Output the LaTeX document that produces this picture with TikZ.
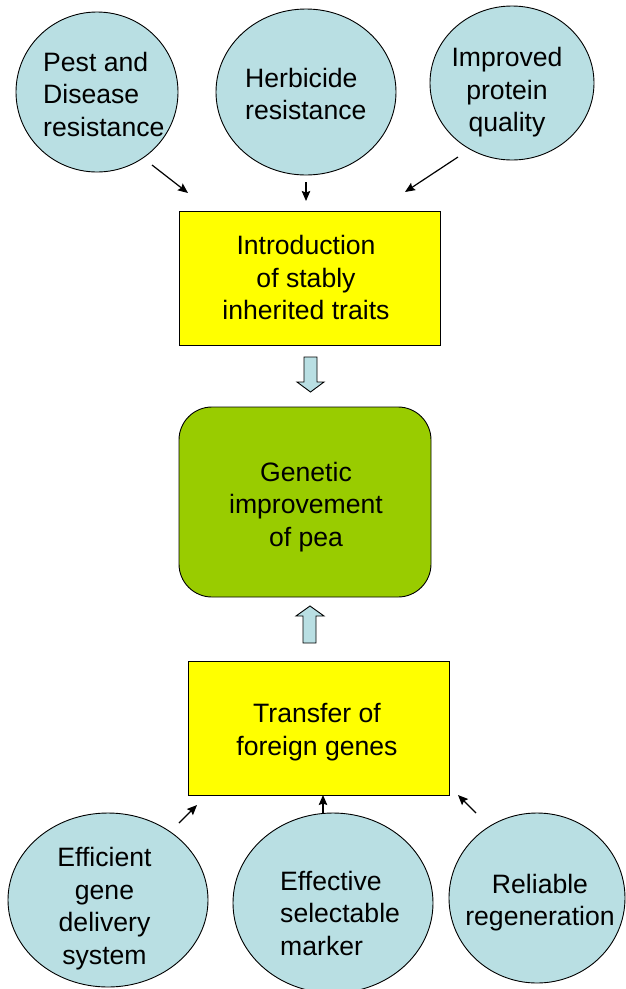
\documentclass[tikz,border=0pt]{standalone}
\usepackage{fontspec}
\setmainfont{Liberation Sans}
\usetikzlibrary{shapes.geometric,arrows.meta}
\definecolor{bub}{RGB}{185,223,227}
\definecolor{yel}{RGB}{255,255,0}
\definecolor{grn}{RGB}{153,204,0}
\begin{document}
\begin{tikzpicture}[x=1pt,y=-1pt,
  bubble/.style={ellipse, draw=black, fill=bub, line width=0.9pt, inner sep=0pt},
  txt/.style={font=\fontsize{26.6}{32.5}\selectfont, inner sep=0pt, align=center},
  ltxt/.style={font=\fontsize{26.6}{32.5}\selectfont, inner sep=0pt, align=left, anchor=west},
  ybox/.style={rectangle, draw=black, fill=yel, line width=0.9pt, inner sep=0pt, minimum width=261pt, minimum height=134pt},
  gbox/.style={rectangle, rounded corners=33pt, draw=black, fill=grn, line width=0.9pt, inner sep=0pt, minimum width=252pt, minimum height=190pt},
  conn/.style={line width=1.2pt, -{Stealth[length=10pt,width=8.5pt,inset=1.5pt]}},
  blockarrow/.style={draw=black, fill=bub, line width=0.9pt, line join=miter}]
\useasboundingbox (0,0) rectangle (625,989);

% bubbles
\node[bubble, minimum width=162pt, minimum height=160pt] (pest) at (97,92) {};
\node[bubble, minimum width=180pt, minimum height=166pt] (herb) at (306,92) {};
\node[bubble, minimum width=164pt, minimum height=154pt] (impr) at (512,83) {};
\node[bubble, minimum width=200pt, minimum height=174pt] (effi) at (108,900) {};
\node[bubble, minimum width=200pt, minimum height=180pt] (effe) at (333,903) {};
\node[bubble, minimum width=176pt, minimum height=170pt] (reli) at (537,898) {};

\node[ltxt] (pestt) at (43,94) {Pest and\\Disease\\resistance};
\node[ltxt] (herbt) at (245,94) {Herbicide\\resistance};
\node[txt] (imprt) at (507,92.5) {Improved\\protein\\quality};
\node[txt] (effit) at (104.5,908.5) {Efficient\\gene\\delivery\\system};
\node[ltxt] (effet) at (280,913) {Effective\\selectable\\marker};
\node[txt] (relit) at (540,902.5) {Reliable\\regeneration};

% boxes
\node[ybox] (intro) at (309.5,278) {};
\node[txt] (introt) at (306,277.5) {Introduction\\of stably\\inherited traits};
\node[gbox] (gen) at (305,502) {};
\node[txt] (gent) at (306,507) {Genetic\\improvement\\of pea};
\node[ybox] (trans) at (318.5,728) {};
\node[txt] (transt) at (317,732) {Transfer of\\foreign genes};

% thin arrows
\coordinate (a1s) at (152,165); \coordinate (a1e) at (188,193);
\coordinate (a2s) at (306,182); \coordinate (a2e) at (306,201);
\coordinate (a3s) at (458,157); \coordinate (a3e) at (405,192);
\coordinate (b1s) at (179,823); \coordinate (b1e) at (197,805);
\coordinate (b2s) at (323,813); \coordinate (b2e) at (323,795);
\coordinate (b3s) at (476,813); \coordinate (b3e) at (458,795);
\draw[conn] (a1s) -- (a1e);
\draw[conn] (a2s) -- (a2e);
\draw[conn] (a3s) -- (a3e);
\draw[conn] (b1s) -- (b1e);
\draw[conn] (b2s) -- (b2e);
\draw[conn] (b3s) -- (b3e);

% block arrows
\draw[blockarrow] (304,357) -- (317,357) -- (317,382) -- (324,382) -- (310.5,392)
  -- (297,382) -- (304,382) -- cycle;
\draw[blockarrow] (303,643) -- (316,643) -- (316,616) -- (324,616) -- (310,606)
  -- (296,616) -- (303,616) -- cycle;
\end{tikzpicture}
\end{document}
